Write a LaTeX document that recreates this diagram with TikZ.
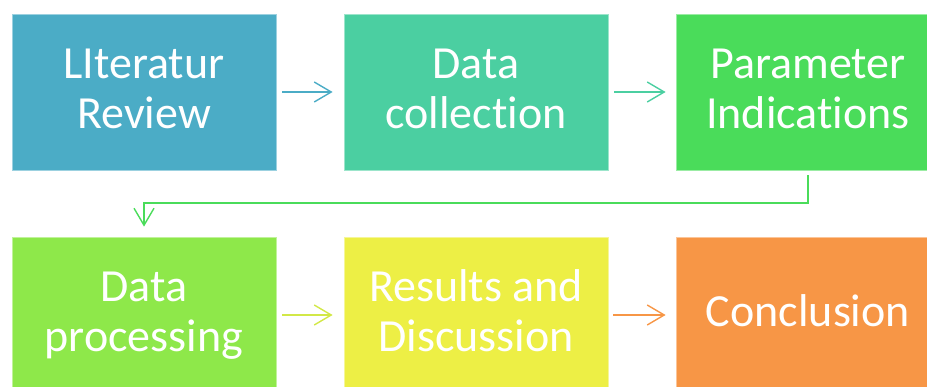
\documentclass[tikz,border=0pt]{standalone}
\usepackage{fontspec}
\setmainfont[Ligatures={NoCommon}]{Carlito}
\usetikzlibrary{arrows.meta}
\definecolor{cA}{HTML}{4BACC6}
\definecolor{cB}{HTML}{4BCFA1}
\definecolor{cC}{HTML}{4ADC5A}
\definecolor{cD}{HTML}{8EE84A}
\definecolor{cE}{HTML}{EDEF45}
\definecolor{cF}{HTML}{F79646}
\definecolor{aD}{HTML}{D2E847}
\newcommand\mystrut{\rule[-9pt]{0pt}{41pt}}
\tikzset{
  box/.style={rectangle, minimum width=264pt, minimum height=156pt, inner sep=0pt,
    text=white, align=center, font=\fontsize{46}{50}\selectfont, draw=#1!55!white, fill=#1, line width=0.8pt},
  conn/.style={draw=#1, line width=1.4pt, -{Straight Barb[length=17pt, width=20pt, line width=1.4pt]}},
}
\begin{document}
\begin{tikzpicture}[x=1pt, y=-1pt]
\useasboundingbox (0,0) rectangle (927,387);
\clip (0,0) rectangle (927,387);
\node[box=cA] (b1) at (144,92) {\mystrut LIteratur\\Review\mystrut};
\node[box=cB] (b2) at (476,92) {\mystrut Data\\collection\mystrut};
\node[box=cC] (b3) at (808,92) {\mystrut Parameter\\Indications\mystrut};
\node[box=cD] (b4) at (144,315) {\mystrut Data\\processing\mystrut};
\node[box=cE] (b5) at (476,315) {\mystrut Results and\\Discussion\mystrut};
\node[box=cF] (b6) at (808,315) {\mystrut Conclusion};
\coordinate (e1) at (808,203);
\coordinate (e2) at (144,203);
\draw[conn=cA, shorten <=6pt, shorten >=11pt] (b1.east) -- (b2.west);
\draw[conn=cB, shorten <=6pt, shorten >=10pt] (b2.east) -- (b3.west);
\draw[conn=cC, shorten <=5pt, shorten >=10pt] (b3.south) -- (e1) -- (e2) -- (b4.north);
\draw[conn=aD, shorten <=6pt, shorten >=11pt] (b4.east) -- (b5.west);
\draw[conn=cF, shorten <=5pt, shorten >=10pt] (b5.east) -- (b6.west);
\end{tikzpicture}
\end{document}
